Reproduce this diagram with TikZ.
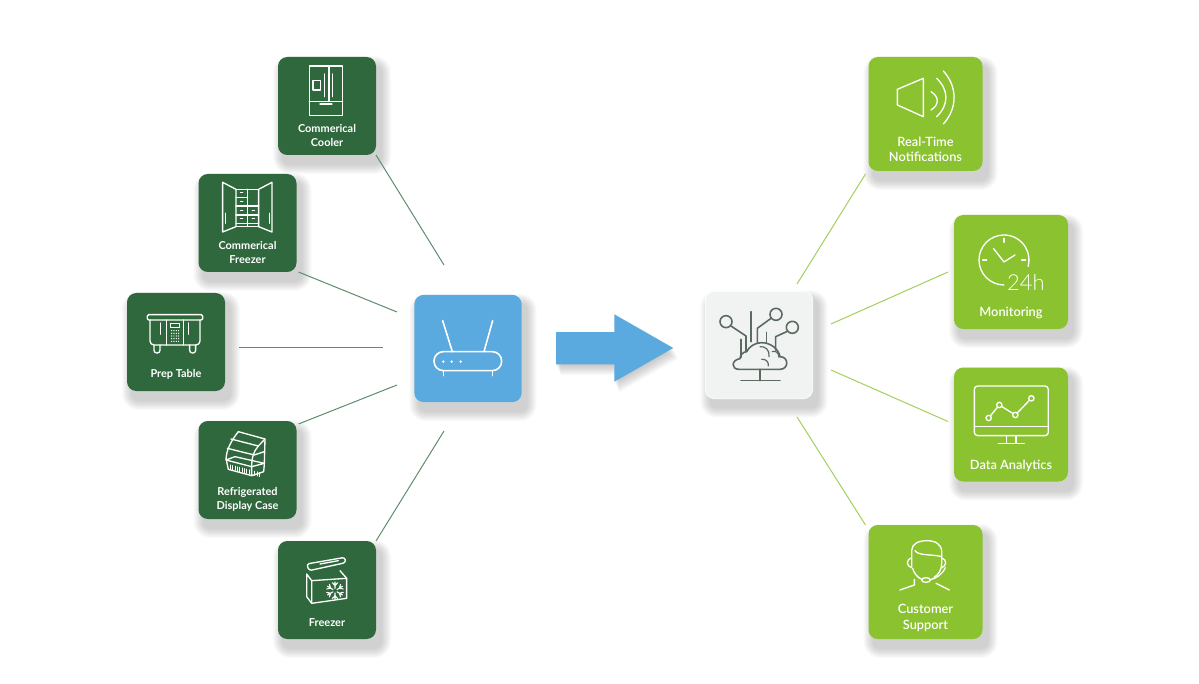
\documentclass[tikz,border=0pt]{standalone}
\usepackage{fontspec}
\usepackage{xcolor}
\usetikzlibrary{calc,backgrounds}
\setmainfont{Lato}
\newfontfamily\thinfont[UprightFont=* Light]{Lato}
\newfontfamily\semifont[UprightFont=* Semibold]{Lato}
\definecolor{darkbox}{HTML}{2E683C}
\definecolor{limebox}{HTML}{8BC22F}
\definecolor{bluebox}{HTML}{5AA9DF}
\definecolor{greybox}{HTML}{F1F3F2}
\definecolor{darklinkc}{HTML}{5E8C6C}
\definecolor{limelinkc}{HTML}{A3CF5C}
\definecolor{cloudline}{HTML}{5C6B62}
\tikzset{
	tile/.style={rounded corners=7pt,inner sep=0pt,outer sep=0pt},
	darktile/.style={tile,fill=darkbox,minimum size=73.5pt},
	limetile/.style={tile,fill=limebox,minimum size=85.5pt},
	hubtile/.style={tile,minimum size=80.5pt},
	softlayer/.style={fill=black,opacity=.019},
	darktext/.style={text=white,align=center,font=\fontsize{8.2}{10.1}\selectfont\bfseries},
	limetext/.style={text=white,align=center,font=\fontsize{9.6}{11.4}\semifont},
	iconline/.style={draw=white,line width=1pt,line join=round,line cap=round},
	iconfine/.style={draw=white,line width=.6pt,line join=round,line cap=round},
	greyline/.style={draw=cloudline,line width=1.2pt,line join=round,line cap=round},
	darklink/.style={draw=darklinkc,line width=.75pt},
	limelink/.style={draw=limelinkc,line width=.75pt},
	zoomed/.style={shift={#1},scale=.3333}
}
\begin{document}
\begin{tikzpicture}[x=.75pt,y=-.75pt]
	\useasboundingbox (0,0) rectangle (1199,684);

	% device tiles
	\node[darktile] (cooler) at (327,106) {};
	\node[darktile] (cfreezer) at (247.5,223) {};
	\node[darktile] (prep) at (176,342) {};
	\node[darktile] (display) at (247.5,470) {};
	\node[darktile] (freezer) at (327,590) {};

	\node[darktext] (coolertxt) at (327,135.5) {Commerical\\Cooler};
	\node[darktext] (cfreezertxt) at (247.5,252.5) {Commerical\\Freezer};
	\node[darktext] (preptxt) at (176,374.5) {Prep Table};
	\node[darktext] (displaytxt) at (247.5,499.5) {Refrigerated\\Display Case};
	\node[darktext] (freezertxt) at (327,623) {Freezer};

	% hubs
	\node[hubtile,fill=bluebox] (router) at (468,348.5) {};
	\node[hubtile,fill=greybox,draw=white,line width=.5pt] (cloud) at (759,345) {};

	% service tiles
	\node[limetile] (alerts) at (925.5,114) {};
	\node[limetile] (monitor) at (1011,272) {};
	\node[limetile] (analytics) at (1011,424.5) {};
	\node[limetile] (support) at (925.5,582) {};

	\node[limetext] (alertstxt) at (925.5,149.5) {Real-Time\\Notifications};
	\node[limetext] (monitortxt) at (1011,312.5) {Monitoring};
	\node[limetext] (analyticstxt) at (1011,465.5) {Data Analytics};
	\node[limetext] (supporttxt) at (925.5,618) {Customer\\Support};

	% soft shadows behind the tiles and the arrow
	\begin{scope}[on background layer]
		\foreach \tilename in {cooler,cfreezer,prep,display,freezer,router,cloud,alerts,monitor,analytics,support}
			\foreach \grow in {1,...,10}
				\fill[softlayer,rounded corners=5pt+\grow*.75pt]
					($(\tilename.north west)+(5-\grow,9-\grow)$) rectangle ($(\tilename.south east)+(5+\grow,9+\grow)$);
		\foreach \grow in {1,...,12}
			\fill[softlayer,opacity=.02,shift={(.4*\grow,.9*\grow)}] (556,332) -- (614.3,332) -- (614.3,314.3) -- (673.3,348) -- (614.3,381.7) -- (614.3,364.3) -- (556,364.3) -- cycle;
	\end{scope}

	% free ends beside the hubs
	\coordinate (rin1) at (444,265);
	\coordinate (rin2) at (397,312);
	\coordinate (rin3) at (383,347);
	\coordinate (rin4) at (397,385);
	\coordinate (rin5) at (444,431);
	\coordinate (cout1) at (797,284);
	\coordinate (cout2) at (831,324);
	\coordinate (cout3) at (831,370);
	\coordinate (cout4) at (797,417);

	\path[darklink]
		(cooler.south east) edge (rin1)
		($(cfreezer.south east)+(2,0)$) edge (rin2)
		($(prep.east)+(14,5)$) edge (rin3)
		($(display.north east)+(2,3)$) edge (rin4)
		(freezer.north east) edge (rin5)
	;
	\path[limelink]
		(cout1) edge ($(alerts.south west)+(-3,3)$)
		(cout2) edge ($(monitor.west)+(-6,0)$)
		(cout3) edge ($(analytics.west)+(-6,-3)$)
		(cout4) edge ($(support.north west)+(-3,0)$)
	;

	% big arrow
	\fill[bluebox] (556,332) -- (614.3,332) -- (614.3,314.3) -- (673.3,348) -- (614.3,381.7) -- (614.3,364.3) -- (556,364.3) -- cycle;

	% router icon
	\begin{scope}[zoomed={(400,280)}]
		\draw[iconline,line width=1.2pt] (128,122) -- (157,215) (278,122) -- (252,215);
		\draw[iconline,line width=1.2pt,rounded corners=7pt] (102,215) rectangle (305,272);
		\draw[iconline,line width=1.2pt] (130,272) -- (130,287) (278,272) -- (278,287);
		\foreach \dotx in {130,155,182}
			\fill[white] (\dotx,245) circle (4);
	\end{scope}

	% cloud icon
	\begin{scope}[zoomed={(715,300)}]
		\draw[greyline] (72,208) -- (195,208) .. controls (222,208) and (222,170) .. (195,170)
			.. controls (190,145) and (165,128) .. (140,128) .. controls (120,128) and (102,140) .. (95,155)
			.. controls (85,155) and (75,165) .. (75,176) .. controls (48,180) and (48,208) .. (72,208);
		\draw[greyline] (135,208) -- (135,242);
		\draw[greyline] (78,242) -- (195,242);
		\draw[greyline] (33,65) circle (18) (183,43) circle (18) (232,82) circle (18);
		\draw[greyline] (48,78) -- (93,108) -- (93,155);
		\draw[greyline] (168,55) -- (127,85) -- (127,130);
		\draw[greyline] (215,95) -- (182,110) -- (182,150);
		\draw[greyline] (108,35) -- (108,125) (78,118) -- (78,172) (155,97) -- (155,130);
		\draw[greyline,line width=.9pt] (135,140) .. controls (150,138) and (165,150) .. (162,170);
		\draw[greyline,line width=.9pt] (172,155) .. controls (182,150) and (192,160) .. (192,172);
		\draw[greyline,line width=.9pt] (140,178) .. controls (152,176) and (162,186) .. (160,198);
	\end{scope}

	% cooler icon
	\begin{scope}[zoomed={(120,50)}]
		\draw[iconline] (568,48) rectangle (668,197);
		\draw[iconline] (568,155) -- (668,155) (627,48) -- (627,155);
		\draw[iconline] (600,162) -- (636,162);
		\draw[iconline] (579,92) rectangle (601,120);
		\draw[iconline] (614,72) -- (614,140) (638,72) -- (638,140);
	\end{scope}

	% commercial freezer icon
	\begin{scope}[zoomed={(120,50)}]
		\draw[iconline] (308,397) -- (348,418) -- (348,530) -- (308,546) -- cycle;
		\draw[iconline] (456,397) -- (416,418) -- (416,530) -- (456,546) -- cycle;
		\draw[iconline] (348,418) -- (416,418) (348,530) -- (416,530);
		\draw[iconline] (316,490) -- (316,520) (448,490) -- (448,520);
		\draw[iconline] (383,418) -- (383,530);
		\draw[iconline] (348,442) -- (383,442) (348,468) -- (416,468) (348,495) -- (416,495) (348,520) -- (416,520);
		\foreach \dashx/\dashy in {365/428,365/453,365/480,365/506,400/480,400/506}
			\draw[iconfine] (\dashx-4,\dashy) -- (\dashx+4,\dashy);
	\end{scope}

	% prep table icon
	\begin{scope}[zoomed={(120,285)}]
		\draw[iconline,rounded corners=1pt] (82,89) rectangle (248,105);
		\draw[iconline,rounded corners=3pt] (90,105) -- (90,180) -- (240,180) -- (240,105);
		\draw[iconline] (140,105) -- (140,180) (190,105) -- (190,180);
		\draw[iconline] (122,114) -- (122,148) (206,114) -- (206,148);
		\draw[iconfine] (151,116) rectangle (178,128);
		\foreach \keyx in {155,162,169,176}
			\foreach \keyy in {137,145,153,161,169}
				\fill[white] (\keyx,\keyy) circle (2.2);
		\draw[iconline,rounded corners=2pt] (102,180) -- (102,204) -- (120,204) -- (120,180);
		\draw[iconline,rounded corners=2pt] (209,180) -- (209,204) -- (227,204) -- (227,180);
	\end{scope}

	% display case icon
	\begin{scope}[zoomed={(215,425)}]
		\draw[iconline] (33,105) .. controls (33,75) and (50,45) .. (70,20) -- (150,42) -- (148,115);
		\draw[iconline] (48,42) -- (130,63) -- (150,42);
		\draw[iconline] (130,63) .. controls (115,80) and (110,100) .. (110,122);
		\draw[iconline] (37,70) -- (118,90) -- (148,80);
		\draw[iconline] (33,105) -- (60,95) -- (148,115) -- (110,125) -- cycle;
		\draw[iconline] (35,110) -- (40,133) -- (110,152) -- (146,140) -- (148,118) (110,125) -- (110,152);
		\foreach \slatx in {46,53,60,67,74,81,88,95,102,118,126,134}
			\draw[iconfine,line width=.45pt] (\slatx,{118+(\slatx-40)*.26}) -- (\slatx,{131+(\slatx-40)*.26});
	\end{scope}

	% chest freezer icon
	\begin{scope}[zoomed={(295,550)}]
		\draw[iconline,rounded corners=2pt] (35,42) -- (150,22) -- (152,38) -- (42,62) -- cycle;
		\draw[iconline] (75,42) -- (130,32);
		\draw[iconline] (35,72) -- (50,92) -- (155,85) -- (155,145) -- (50,160) -- (35,140) -- cycle;
		\draw[iconline] (50,92) -- (50,160) (135,62) -- (155,85);
		\foreach \spoke in {0,60,...,300}
			\draw[iconfine,line width=.8pt,shift={(120,122)},rotate=\spoke] (0,-7) -- (0,-26) (-8,-24) -- (0,-15) -- (8,-24);
	\end{scope}

	% speaker icon
	\begin{scope}[zoomed={(860,50)}]
		\draw[iconline] (112,118) -- (190,85) -- (190,200) -- (112,165) -- cycle;
		\draw[iconline] (213,125) .. controls (238,140) and (238,165) .. (213,180);
		\draw[iconline] (230,85) .. controls (267,120) and (267,165) .. (230,200);
		\draw[iconline] (250,63) .. controls (293,110) and (293,175) .. (250,222);
	\end{scope}

	% clock icon
	\begin{scope}[zoomed={(860,50)}]
		\draw[iconline] (432,705) arc[start angle=90,end angle=375,radius=75];
		\draw[iconline] (432,565) -- (432,577) (368,630) -- (380,630) (485,630) -- (497,630);
		\draw[iconline] (400,595) -- (432,636) -- (465,615);
		\node[text=white,font=\fontsize{16.5}{18}\thinfont] (clockhours) at (498,697) {24h};
	\end{scope}

	% monitor icon
	\begin{scope}[zoomed={(860,360)}]
		\draw[iconline,rounded corners=2.5pt] (343,78) rectangle (565,227);
		\draw[iconline] (343,200) -- (565,200);
		\draw[iconline] (440,227) -- (440,250) (468,227) -- (468,250) (415,250) -- (493,250);
		\draw[iconline] (386,174) -- (418,135) -- (466,165) -- (514,115);
		\foreach \ptx/\pty in {386/174,418/135,466/165,514/115}
			\draw[iconline,fill=limebox] (\ptx,\pty) circle (8);
	\end{scope}

	% headset icon
	\begin{scope}[zoomed={(890,530)}]
		\draw[iconline] (65,110) -- (65,62) .. controls (65,42) and (85,32) .. (110,32)
			.. controls (135,32) and (155,42) .. (155,65) -- (155,100) .. controls (155,120) and (145,135) .. (132,142);
		\draw[iconline] (68,115) .. controls (72,130) and (82,142) .. (95,148);
		\draw[iconline] (75,62) .. controls (85,78) and (125,72) .. (155,80);
		\draw[iconline,rounded corners=3pt] (64,84) -- (52,86) -- (52,110) -- (65,113);
		\draw[iconline,rounded corners=3pt] (155,84) -- (167,86) -- (167,110) -- (155,113);
		\draw[iconline] (166,113) .. controls (160,130) and (140,145) .. (122,149);
		\draw[iconline] (108,150) ellipse (13 and 7);
		\draw[iconline] (73,148) -- (73,165) -- (30,180) (138,160) -- (178,180);
	\end{scope}
\end{tikzpicture}
\end{document}
